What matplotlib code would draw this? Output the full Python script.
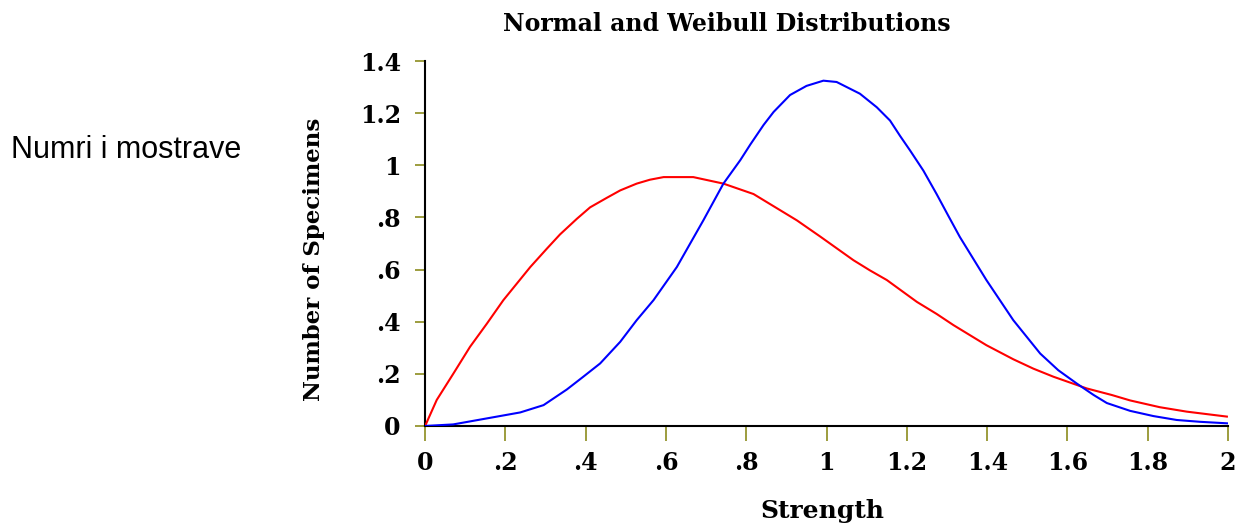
import matplotlib
matplotlib.use("Agg")
import matplotlib.pyplot as plt

# values
red_x = [0, 0.029, 0.07, 0.112, 0.154, 0.195, 0.262, 0.303, 0.336, 0.378, 0.411,
         0.452, 0.486, 0.527, 0.56, 0.594, 0.668, 0.743, 0.818, 0.926, 0.984,
         1.067, 1.108, 1.15, 1.225, 1.274, 1.316, 1.398, 1.465, 1.515, 1.565,
         1.648, 1.71, 1.756, 1.83, 1.897, 1.997]
red_y = [0, 0.10, 0.20, 0.304, 0.393, 0.483, 0.61, 0.68, 0.735, 0.795, 0.839,
         0.875, 0.904, 0.93, 0.945, 0.955, 0.955, 0.93, 0.89, 0.789, 0.727,
         0.636, 0.597, 0.56, 0.476, 0.43, 0.387, 0.31, 0.256, 0.220, 0.189,
         0.144, 0.119, 0.098, 0.072, 0.055, 0.036]

blue_x = [0, 0.07, 0.179, 0.237, 0.295, 0.353, 0.394, 0.436, 0.486, 0.527, 0.569,
          0.627, 0.693, 0.743, 0.785, 0.81, 0.843, 0.868, 0.909, 0.95, 0.992,
          1.025, 1.083, 1.125, 1.158, 1.183, 1.208, 1.241, 1.274, 1.303, 1.332,
          1.398, 1.465, 1.532, 1.577, 1.623, 1.665, 1.698, 1.756, 1.814, 1.872,
          1.93, 2.0]
blue_y = [0, 0.006, 0.036, 0.052, 0.08, 0.14, 0.189, 0.24, 0.323, 0.406, 0.483,
          0.61, 0.789, 0.93, 1.02, 1.08, 1.155, 1.205, 1.27, 1.305, 1.325,
          1.32, 1.275, 1.223, 1.172, 1.113, 1.057, 0.98, 0.89, 0.807, 0.725,
          0.56, 0.406, 0.278, 0.214, 0.163, 0.119, 0.088, 0.058, 0.038, 0.023,
          0.016, 0.01]

x_ticks = [0, 0.2, 0.4, 0.6, 0.8, 1, 1.2, 1.4, 1.6, 1.8, 2]
x_labels = ["0", ".2", ".4", ".6", ".8", "1", "1.2", "1.4", "1.6", "1.8", "2"]
y_ticks = [0, 0.2, 0.4, 0.6, 0.8, 1, 1.2, 1.4]
y_labels = ["0", ".2", ".4", ".6", ".8", "1", "1.2", "1.4"]

serif = {"family": "DejaVu Serif", "weight": "bold", "size": 17}

fig = plt.figure(figsize=(12.43, 5.27), dpi=100)
ax = fig.add_axes([0.342, 0.1917, 0.646, 0.6923])

ax.plot(red_x, red_y, color="#ff0000", lw=1.5, zorder=3)
ax.plot(blue_x, blue_y, color="#0000ff", lw=1.5, zorder=3)

ax.set_xlim(0, 2)
ax.set_ylim(0, 1.4)
for s in ["top", "right"]:
    ax.spines[s].set_visible(False)
for s in ["left", "bottom"]:
    ax.spines[s].set_linewidth(1.5)
    ax.spines[s].set_color("black")

ax.set_xticks(x_ticks)
ax.set_xticklabels(x_labels, fontdict=serif)
ax.set_yticks(y_ticks)
ax.set_yticklabels(y_labels, fontdict=serif)
ax.tick_params(axis="x", direction="out", length=11, width=1.2, color="#8c8c1e", pad=7)
ax.tick_params(axis="y", direction="out", length=7.5, width=1.2, color="#8c8c1e", pad=10)

fig.text(0.585, 0.955, "Normal and Weibull Distributions", ha="center", va="center",
         fontdict=serif)
fig.text(0.662, 0.03, "Strength", ha="center", va="center",
         family="DejaVu Serif", weight="bold", size=18)
fig.text(0.253, 0.508, "Number of Specimens", ha="center", va="center",
         rotation=90, family="DejaVu Serif", weight="bold", size=16.5)
fig.text(0.009, 0.715, "Numri i mostrave", ha="left", va="center",
         family="Liberation Sans", fontsize=22)

fig.savefig("out.png", dpi=100)
